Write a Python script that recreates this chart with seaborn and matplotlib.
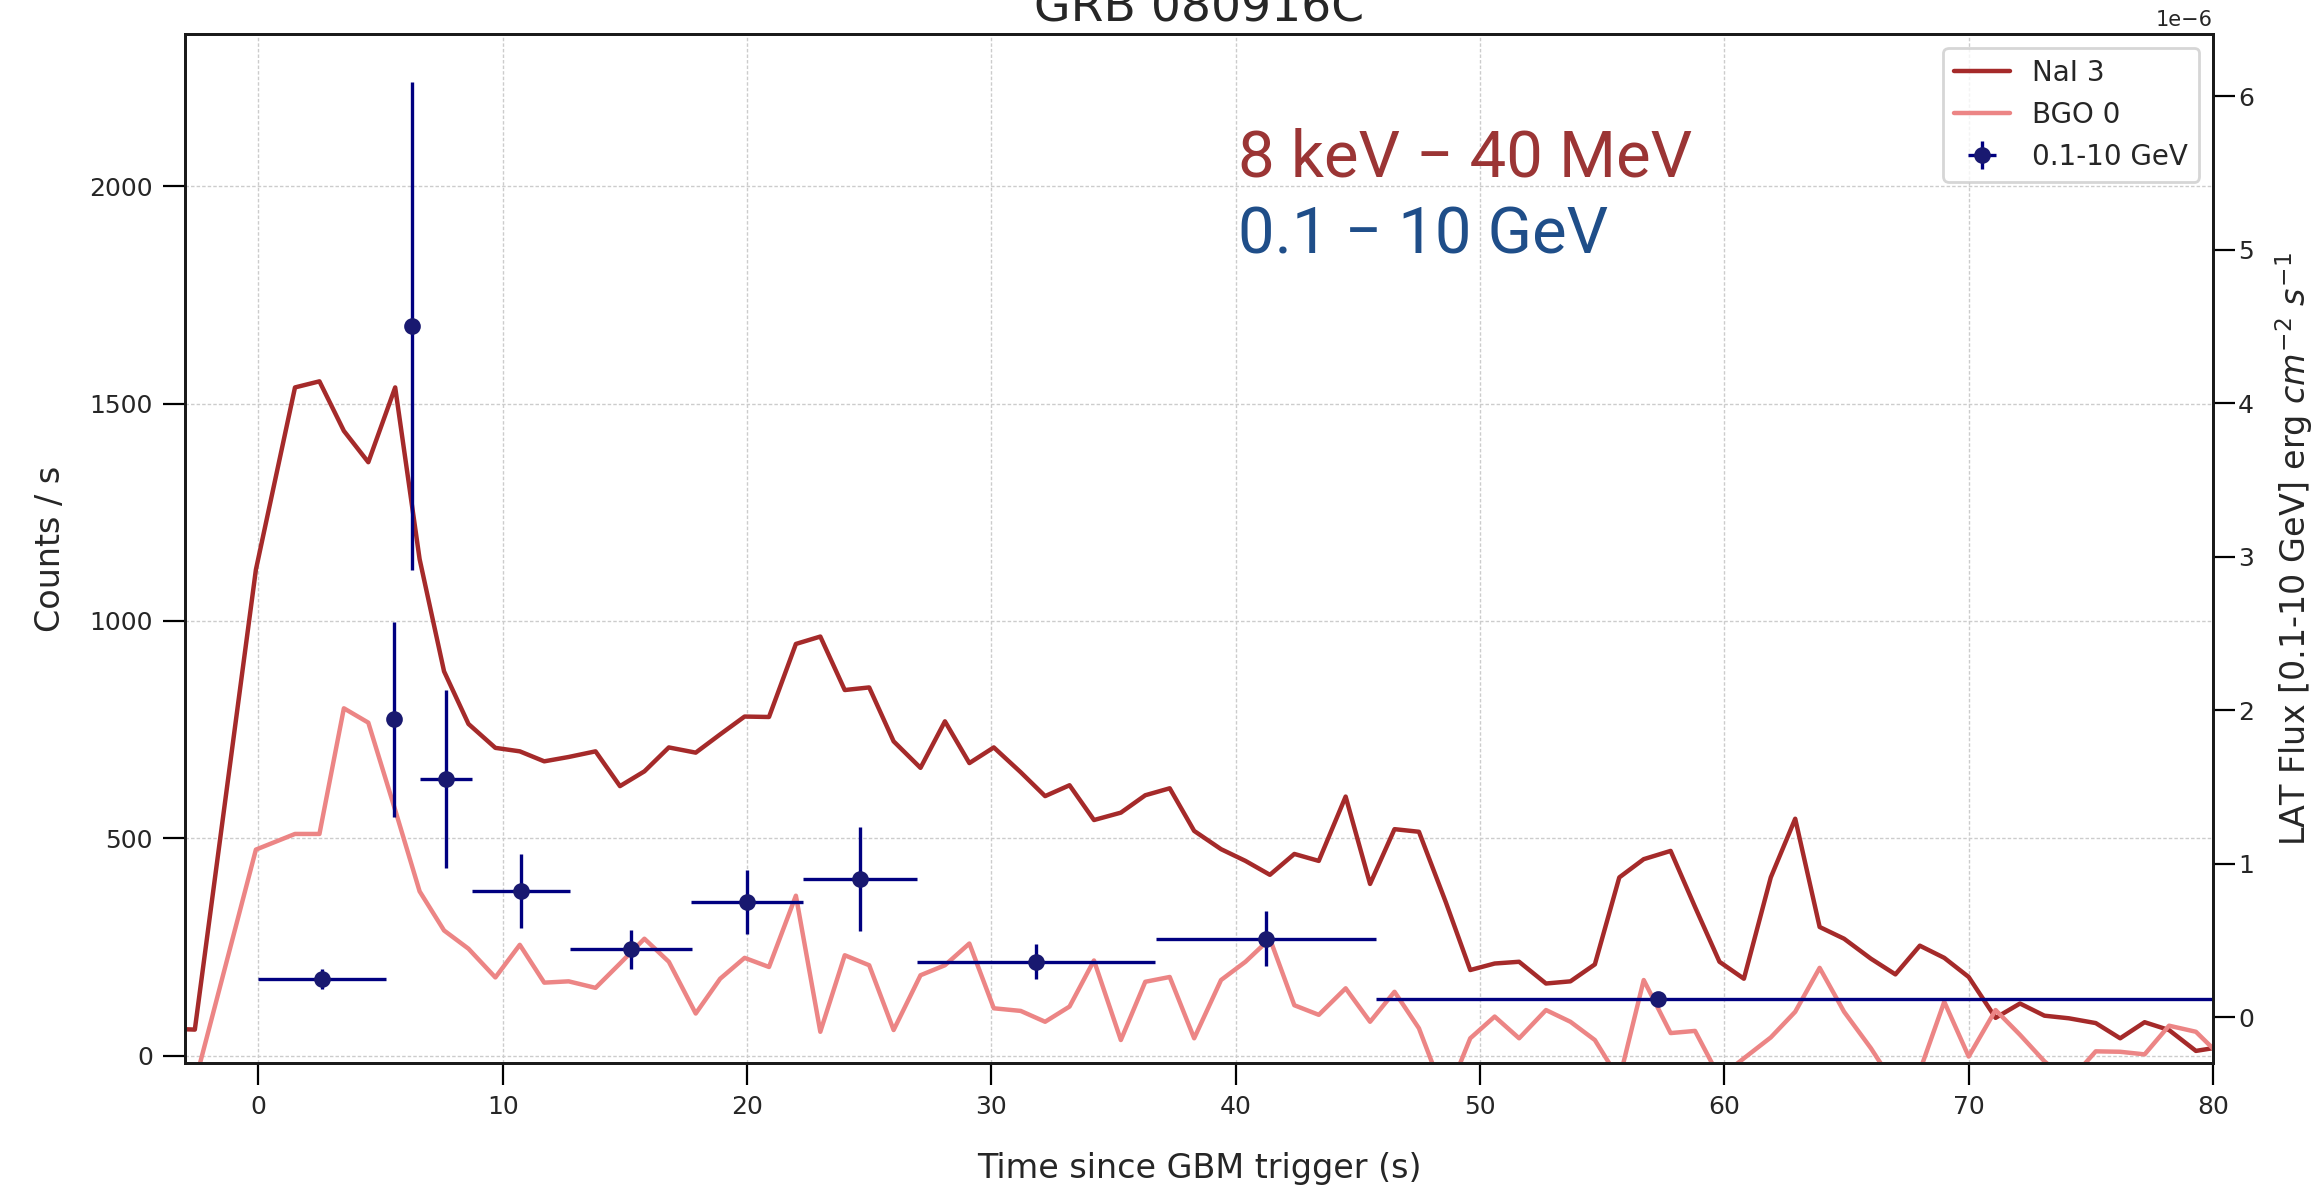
import numpy as np
import pandas as pd
import matplotlib
matplotlib.use("Agg")
import matplotlib.pyplot as plt
import seaborn as sns

# GBM light curves, counts/s per ~1.024 s bin
gbm_time = [-3.6, -2.6, -0.1, 1.5, 2.5, 3.5, 4.5, 5.6, 6.6, 7.6,
            8.6, 9.7, 10.7, 11.7, 12.7, 13.8, 14.8, 15.8, 16.8, 17.9,
            18.9, 19.9, 20.9, 22.0, 23.0, 24.0, 25.0, 26.0, 27.1, 28.1,
            29.1, 30.1, 31.2, 32.2, 33.2, 34.2, 35.3, 36.3, 37.3, 38.3,
            39.4, 40.4, 41.4, 42.4, 43.4, 44.5, 45.5, 46.5, 47.5, 48.6,
            49.6, 50.6, 51.6, 52.7, 53.7, 54.7, 55.7, 56.7, 57.8, 58.8,
            59.8, 60.8, 61.9, 62.9, 63.9, 64.9, 66.0, 67.0, 68.0, 69.0,
            70.0, 71.1, 72.1, 73.1, 74.1, 75.2, 76.2, 77.2, 78.2, 79.3,
            80.3]
nai3_rate = [62, 60, 1118, 1537, 1551, 1437, 1365, 1537, 1142, 884,
             763, 708, 700, 677, 687, 700, 620, 654, 709, 697,
             739, 780, 779, 947, 964, 841, 847, 723, 662, 769,
             673, 709, 652, 597, 622, 542, 559, 599, 615, 517,
             475, 448, 416, 464, 448, 596, 395, 521, 515, 353,
             197, 212, 216, 166, 171, 210, 410, 452, 471, 342,
             216, 177, 410, 545, 296, 269, 223, 187, 253, 225,
             181, 87, 120, 92, 86, 75, 40, 77, 59, 11,
             20]
bgo0_rate = [-60, -63, 474, 510, 510, 799, 766, 565, 378, 288,
             246, 180, 255, 168, 171, 156, 212, 269, 216, 97,
             177, 225, 204, 368, 55, 231, 208, 59, 185, 208,
             258, 109, 103, 78, 113, 219, 36, 170, 181, 40,
             174, 216, 269, 116, 94, 155, 78, 147, 63, -99,
             40, 90, 40, 105, 78, 36, -55, 174, 52, 57,
             -50, -6, 42, 101, 202, 101, 17, -70, -35, 124,
             -2, 105, 48, -13, -60, 10, 9, 3, 69, 55,
             0]

# LAT 0.1-10 GeV energy flux (units of 1e-6 erg cm^-2 s^-1)
lat_time = [2.6, 5.55, 6.3, 7.67, 10.75, 15.25, 20.0, 24.63, 31.83, 41.23, 57.28]
lat_time_lo = [2.62, 0.2, 0.25, 1.07, 1.99, 2.48, 2.28, 2.33, 4.86, 4.5, 11.53]
lat_time_hi = [2.62, 0.2, 0.25, 1.07, 1.99, 2.48, 2.28, 2.33, 4.86, 4.5, 45.0]
lat_flux = [0.25, 1.94, 4.50, 1.55, 0.82, 0.44, 0.75, 0.90, 0.36, 0.51, 0.12]
lat_flux_err = [0.065, 0.635, 1.59, 0.58, 0.24, 0.13, 0.21, 0.34, 0.115, 0.18, 0.02]
FLUX_UNIT = 1e-6

gbm = pd.DataFrame({"time": gbm_time, "NaI 3": nai3_rate, "BGO 0": bgo0_rate})

sns.set_style("ticks")
plt.rcParams["font.family"] = ["DejaVu Sans"]
plt.rcParams["axes.unicode_minus"] = True

fig = plt.figure(figsize=(11.595, 5.935), dpi=200)
ax = fig.add_axes([0.0798, 0.1044, 0.8745, 0.867])

sns.lineplot(data=gbm, x="time", y="NaI 3", ax=ax, color="#a52a2a",
             linewidth=1.6, label="NaI 3", sort=False, estimator=None)
sns.lineplot(data=gbm, x="time", y="BGO 0", ax=ax, color="#ec8585",
             linewidth=1.6, label="BGO 0", sort=False, estimator=None)

ax.set_xlim(-3.0, 80)
ax.set_ylim(-17, 2350)
ax.set_xticks(range(0, 81, 10))
ax.set_yticks(range(0, 2001, 500))
ax.grid(True, linestyle=(0, (2.5, 1.5)), linewidth=0.5, color="#cccccc")
ax.set_axisbelow(True)
ax.tick_params(axis="both", direction="out", length=8, width=0.8,
               labelsize=9, color="black")
ax.set_xlabel("Time since GBM trigger (s)", fontsize=12, labelpad=12)
ax.set_ylabel("Counts / s", fontsize=12, labelpad=8)
ax.set_title("GRB 080916C", fontsize=17, pad=4.5)

ax2 = ax.twinx()
flux = np.array(lat_flux) * FLUX_UNIT
flux_err = np.array(lat_flux_err) * FLUX_UNIT
ax2.errorbar(lat_time, flux,
             xerr=[lat_time_lo, lat_time_hi], yerr=flux_err,
             fmt="o", color="midnightblue", ecolor="navy", markersize=5,
             elinewidth=1.2, capsize=0, label="0.1-10 GeV")
ax2.set_ylim(-0.30e-6, 6.405e-6)
ax2.set_yticks(np.arange(0, 7) * FLUX_UNIT)
ax2.grid(False)
ax2.tick_params(axis="y", direction="out", length=8, width=0.8,
                labelsize=9, pad=1, color="black")
ax2.yaxis.get_offset_text().set_fontsize(7.5)
ax2.set_ylabel(r"LAT Flux [0.1-10 GeV] erg $cm^{-2}$ $s^{-1}$",
               fontsize=12, labelpad=7)

for a in (ax, ax2):
    for sp in a.spines.values():
        sp.set_visible(True)
        sp.set_color("#1a1a1a")
        sp.set_linewidth(1.0)

ax.text(40.1, 2023, "8 keV \u2212 40 MeV", color="#9b3535", fontsize=23.5,
        family=["Roboto", "DejaVu Sans"], va="baseline", ha="left")
ax.text(40.1, 1846, "0.1 \u2212 10 GeV", color="#1f4e89", fontsize=23.5,
        family=["Roboto", "DejaVu Sans"], va="baseline", ha="left")

h1, l1 = ax.get_legend_handles_labels()
h2, l2 = ax2.get_legend_handles_labels()
if ax.get_legend() is not None:
    ax.get_legend().remove()
ax2.legend(h1 + h2, l1 + l2, loc="upper right", fontsize=10,
           frameon=True, fancybox=True, framealpha=0.8, edgecolor="#cccccc")

fig.savefig("out.png", dpi=200)
